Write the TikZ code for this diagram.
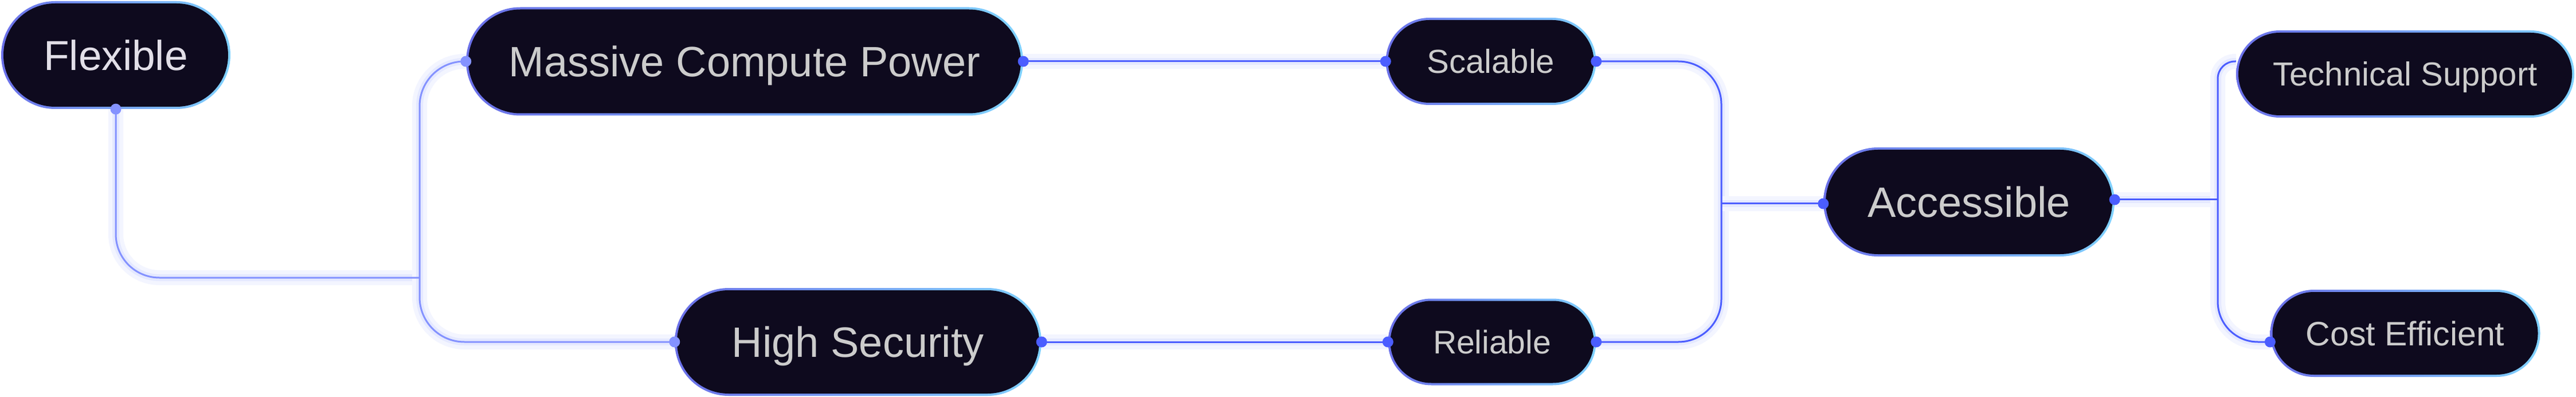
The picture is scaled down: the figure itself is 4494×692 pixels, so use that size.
\documentclass[tikz,border=0pt]{standalone}
\usepackage{fontspec}
\setmainfont{Liberation Sans}
\usetikzlibrary{shapes.misc}
\definecolor{boxfill}{HTML}{0E0A1E}
\definecolor{bdL}{HTML}{6A6FE8}
\definecolor{bdM}{HTML}{6FA2F6}
\definecolor{bdR}{HTML}{80D2FF}
\definecolor{lineA}{HTML}{8492FF}
\definecolor{lineB}{HTML}{4B5DFF}
\definecolor{glowA}{HTML}{F3F5FF}
\definecolor{glowB}{HTML}{E5E9FF}
\definecolor{txt}{HTML}{CCCCCC}
\definecolor{txtlight}{HTML}{E2DFE8}
\pgfdeclarelayer{paper}
\pgfdeclarelayer{glow}
\pgfdeclarelayer{lines}
\pgfsetlayers{paper,glow,lines,main}
\tikzset{
  pillouter/.style={rounded rectangle, inner sep=0pt, draw=none,
    left color=bdL, middle color=bdM, right color=bdR},
  pillinner/.style={rounded rectangle, inner sep=0pt, fill=boxfill},
  dotA/.style={fill=lineA},
  dotB/.style={fill=lineB},
}
% #1 text colour (opt), #2 name, #3 x, #4 y, #5 w, #6 h, #7 font size, #8 text
\newcommand\pill[8][txt]{%
  \node[pillouter, minimum width=#5pt, minimum height=#6pt] (#2) at (#3,#4) {};
  \node[pillinner, minimum width={#5-8}, minimum height={#6-8}, text=#1,
        font=\fontsize{#7}{#7}\selectfont, text height={0.716*#7}, text depth=0pt]
        (#2-in) at (#2.center) {#8};}
% #1 colour, #2 corner radius, #3 path
\newcommand\myconn[3]{%
  \begin{pgfonlayer}{glow}
    \draw[glowA, line width=26pt, rounded corners=#2] #3;
    \draw[glowB, line width=12pt, rounded corners=#2] #3;
  \end{pgfonlayer}
  \begin{pgfonlayer}{lines}
    \draw[#1, line width=3pt, rounded corners=#2] #3;
  \end{pgfonlayer}}
\begin{document}
\begin{tikzpicture}[x=1pt, y=-1pt]
\begin{pgfonlayer}{paper}
  \fill[white] (0,0) rectangle (4494,692);
\end{pgfonlayer}
\useasboundingbox (0,0) rectangle (4494,692);

\pill[txtlight]{F}{202}{96}{400}{188}{73}{Flexible}
\pill{M}{1299}{107}{972}{189}{74}{Massive Compute Power}
\pill{S}{2601}{107}{367}{152}{58}{Scalable}
\pill{A}{3435}{352}{508}{190}{74}{Accessible}
\pill{T}{4196}{129}{590}{152}{58}{Technical Support}
\pill{C}{4196}{581}{471}{152}{59}{Cost Efficient}
\pill{H}{1497}{596}{640}{188}{74}{High Security}
\pill{R}{2603}{596}{363}{151}{57}{Reliable}

\coordinate (jL) at (732,484);
\coordinate (jR) at (3003,355);
\coordinate (jT) at (3869,348);

\myconn{lineA}{76pt}{(F.south) |- (jL)}
\myconn{lineA}{78pt}{(M.west) -| (jL |- H.west) -- (H.west)}
\myconn{lineB}{1pt}{(M.east) -- (S.west)}
\myconn{lineB}{75pt}{(S.east) -| (jR |- R.east) -- (R.east)}
\myconn{lineB}{1pt}{(jR) -- ([yshift=-3pt]A.west)}
\myconn{lineB}{1pt}{(H.east) -- (R.west)}
\myconn{lineB}{1pt}{([yshift=4pt]A.east) -- (jT)}
\myconn{lineB}{30pt}{(jT) |- ([yshift=22pt]T.west)}
\myconn{lineB}{70pt}{(jT) |- ([yshift=-15pt]C.west)}

\fill[dotA] (F.south) circle (9.5pt);
\fill[dotA] (M.west) circle (9.5pt);
\fill[dotA] (H.west) circle (9.5pt);
\fill[dotB] (M.east) circle (9.5pt);
\fill[dotB] (S.west) circle (9.5pt);
\fill[dotB] (S.east) circle (9.5pt);
\fill[dotB] ([yshift=-3pt]A.west) circle (9.5pt);
\fill[dotB] ([yshift=4pt]A.east) circle (9.5pt);
\fill[dotB] (H.east) circle (9.5pt);
\fill[dotB] (R.west) circle (9.5pt);
\fill[dotB] (R.east) circle (9.5pt);
\fill[dotB] ([yshift=-15pt]C.west) circle (9.5pt);
\end{tikzpicture}
\end{document}
